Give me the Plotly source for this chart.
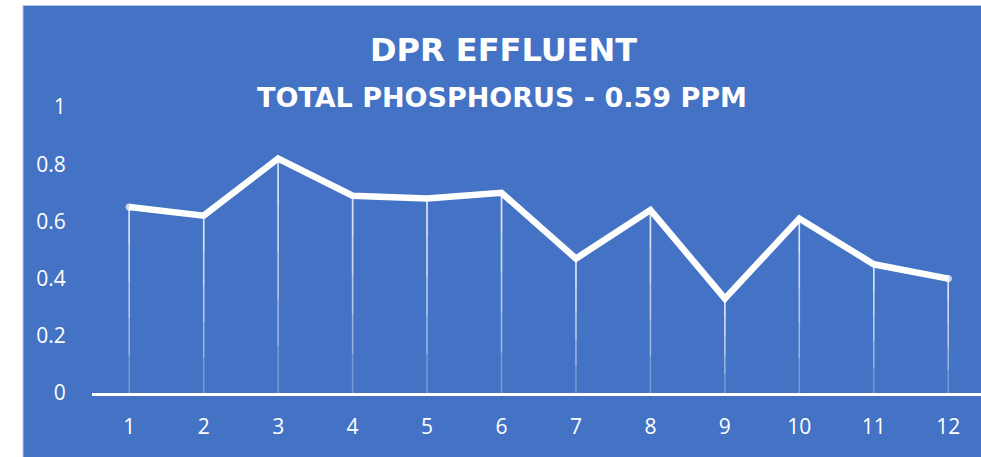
import plotly.graph_objects as go

# ---- data ----
months = [1, 2, 3, 4, 5, 6, 7, 8, 9, 10, 11, 12]
phosphorus = [0.65, 0.62, 0.82, 0.69, 0.68, 0.70, 0.47, 0.64, 0.33, 0.61, 0.45, 0.40]
y_ticks = [0, 0.2, 0.4, 0.6, 0.8, 1]
y_tick_labels = ["0", "0.2", "0.4", "0.6", "0.8", "1"]
title_text = "DPR EFFLUENT"
subtitle_text = "TOTAL PHOSPHORUS - 0.59 PPM"

BLUE = "#4472C4"
W, H = 981, 457
ML, MR, MT, MB = 92, 0, 107, 64
PW, PH = W - ML - MR, H - MT - MB

def px_x(p):
    return (p - ML) / PW

def px_y(p):
    return (H - MB - p) / PH

fig = go.Figure()

# drop lines with a fading gradient (layered semi-transparent error bars)
for frac in [1.0, 0.8, 0.6, 0.4, 0.2]:
    fig.add_trace(go.Scatter(
        x=months, y=phosphorus, mode="markers",
        marker=dict(size=0.1, color="rgba(0,0,0,0)"),
        error_y=dict(type="data", symmetric=False,
                     array=[0] * len(phosphorus),
                     arrayminus=[v * frac for v in phosphorus],
                     color="rgba(255,255,255,0.28)", thickness=1.5, width=0),
        hoverinfo="skip", showlegend=False,
    ))

end_sizes = [6.5] + [0] * (len(months) - 2) + [6.5]
fig.add_trace(go.Scatter(
    x=months, y=phosphorus, mode="lines+markers",
    line=dict(color="white", width=6.5),
    marker=dict(size=end_sizes, color="white"),
    hoverinfo="skip", showlegend=False,
))

fig.update_layout(
    width=W, height=H,
    margin=dict(l=ML, r=MR, t=MT, b=MB, pad=0),
    paper_bgcolor="white",
    plot_bgcolor="rgba(0,0,0,0)",
    font=dict(family="Open Sans", color="white", size=21),
    hovermode=False,
    xaxis=dict(
        type="linear", range=[0.5, 12.44],
        tickvals=months, ticktext=[str(m) for m in months],
        showgrid=False, zeroline=False,
        showline=True, linecolor="white", linewidth=2.5,
        ticks="outside", ticklen=13, tickcolor="rgba(0,0,0,0)",
        tickfont=dict(family="Open Sans", size=21, color="white"),
        fixedrange=True,
    ),
    yaxis=dict(
        range=[0, 1], tickvals=y_ticks, ticktext=y_tick_labels,
        showgrid=False, zeroline=False, showline=False,
        ticks="outside", ticklen=21, tickcolor="rgba(0,0,0,0)",
        tickfont=dict(family="Open Sans", size=21, color="white"),
        fixedrange=True,
    ),
    shapes=[dict(
        type="rect", xref="paper", yref="paper", layer="below",
        x0=px_x(23), x1=px_x(W + 5), y0=px_y(H + 5), y1=px_y(5.5),
        fillcolor=BLUE, line=dict(color="#B4C7E7", width=1),
    )],
    annotations=[
        dict(text=title_text, xref="paper", yref="paper",
             x=px_x(503), y=px_y(50), xanchor="center", yanchor="middle",
             showarrow=False,
             font=dict(family="DejaVu Sans", size=32, color="white", weight="bold")),
        dict(text=subtitle_text, xref="paper", yref="paper",
             x=px_x(502), y=px_y(97.5), xanchor="center", yanchor="middle",
             showarrow=False,
             font=dict(family="DejaVu Sans", size=27, color="white", weight="bold")),
    ],
)

fig.write_html(
    "out.html",
    config={"displayModeBar": False, "staticPlot": True},
    post_script="document.body.style.margin='0';document.body.style.overflow='hidden';",
)
